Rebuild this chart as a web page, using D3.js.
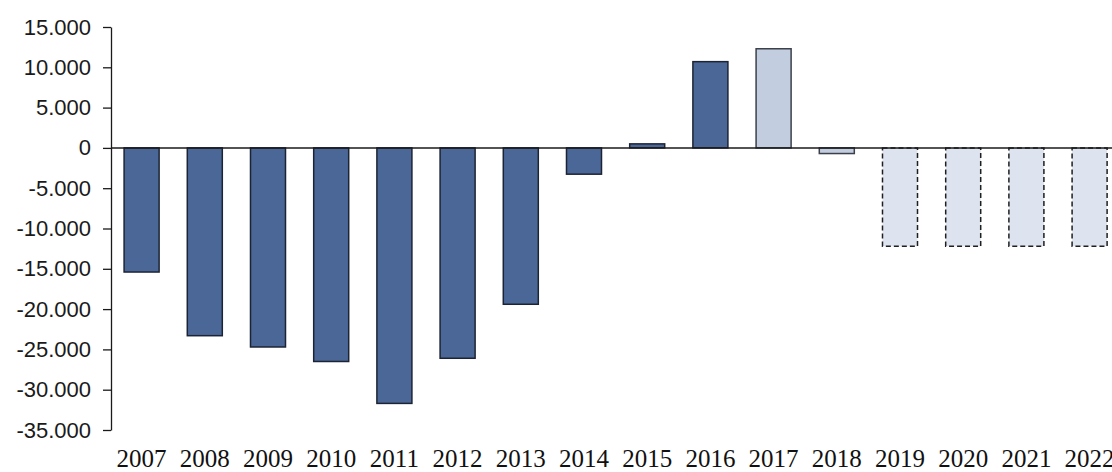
<!DOCTYPE html>
<html>
<head>
<meta charset="utf-8">
<script src="https://cdn.jsdelivr.net/npm/d3@7"></script>
<style>
  html, body { margin: 0; padding: 0; background: #fff; }
  svg { display: block; }
  .y-axis text { font-family: "Liberation Sans", Arial, sans-serif; font-size: 22px; fill: #1a1a1a; }
  .x-label { font-family: "Liberation Serif", "DejaVu Serif", serif; font-size: 25px; fill: #111; }
</style>
</head>
<body>
<svg id="chart" width="1112" height="472"></svg>
<script>
// Chart data
const years = ['2007', '2008', '2009', '2010', '2011', '2012', '2013', '2014',
               '2015', '2016', '2017', '2018', '2019', '2020', '2021', '2022'];
const values = [-15400, -23300, -24700, -26500, -31700, -26100, -19400, -3260,
                500, 10700, 12300, -700, -12200, -12200, -12200, -12200];
// actual / estimate / projection
const kinds = ['actual', 'actual', 'actual', 'actual', 'actual', 'actual', 'actual', 'actual',
               'actual', 'actual', 'estimate', 'estimate', 'projection', 'projection', 'projection', 'projection'];
const yTicks = [15000, 10000, 5000, 0, -5000, -10000, -15000, -20000, -25000, -30000, -35000];

const svg = d3.select('#chart');
const width = 1112;

const x = d3.scaleBand()
    .domain(years)
    .range([110, 110 + 16 * 63.2])
    .paddingInner(0.446)
    .paddingOuter(0.223);

const y = d3.scaleLinear()
    .domain([-35000, 15000])
    .range([430, 27]);

const locale = d3.formatLocale({
    decimal: ',', thousands: '.', grouping: [3], currency: ['', ''], minus: '-'
});
const fmt = locale.format(',d');

// Bar styles by kind
const styles = {
    actual:     { fill: '#4a6798', stroke: '#1c2433', dash: null },
    estimate:   { fill: '#c3cde0', stroke: '#3b404b', dash: null },
    projection: { fill: '#dde3ef', stroke: '#1f1f1f', dash: '5,3' }
};

const data = years.map((yr, i) => ({ year: yr, value: values[i], kind: kinds[i] }));

// Bars
svg.append('g')
    .selectAll('rect')
    .data(data)
    .enter()
    .append('rect')
    .attr('x', d => x(d.year))
    .attr('width', x.bandwidth())
    .attr('y', d => y(Math.max(0, d.value)))
    .attr('height', d => Math.abs(y(d.value) - y(0)))
    .attr('fill', d => styles[d.kind].fill)
    .attr('stroke', d => styles[d.kind].stroke)
    .attr('stroke-width', 1.5)
    .attr('stroke-dasharray', d => styles[d.kind].dash);

// Zero line
svg.append('line')
    .attr('x1', 111)
    .attr('x2', width)
    .attr('y1', y(0))
    .attr('y2', y(0))
    .attr('stroke', '#1a1a1a')
    .attr('stroke-width', 1.5);

// Y axis
const yAxis = svg.append('g')
    .attr('class', 'y-axis')
    .attr('transform', 'translate(111,0)')
    .call(d3.axisLeft(y)
        .tickValues(yTicks)
        .tickFormat(fmt)
        .tickSize(8)
        .tickSizeOuter(0)
        .tickPadding(12));

yAxis.select('.domain').attr('stroke', '#1a1a1a').attr('stroke-width', 1.3);
yAxis.selectAll('.tick line').attr('stroke', '#1a1a1a').attr('stroke-width', 1.3);

// X labels
svg.append('g')
    .selectAll('text')
    .data(years)
    .enter()
    .append('text')
    .attr('class', 'x-label')
    .attr('x', d => x(d) + x.bandwidth() / 2)
    .attr('y', 467)
    .attr('text-anchor', 'middle')
    .text(d => d);
</script>
</body>
</html>
